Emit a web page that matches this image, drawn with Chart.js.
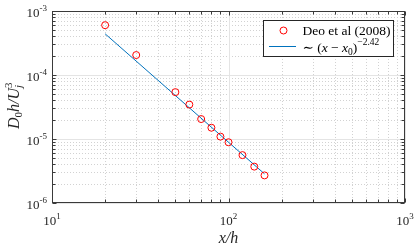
<!DOCTYPE html>
<html>
<head>
<meta charset="utf-8">
<script src="https://cdn.jsdelivr.net/npm/chart.js@4.4.1/dist/chart.umd.min.js"></script>
<style>
  html, body { margin: 0; padding: 0; background: #fff; }
  canvas { display: block; }
</style>
</head>
<body>
<canvas id="grafico" width="415" height="248"></canvas>
<script>
// datos (Deo et al 2008)
const xDeo = [20, 30, 50, 60, 70, 80, 90, 100, 120, 140, 160];
const yDeo = [6.0e-4, 2.05e-4, 5.4e-5, 3.45e-5, 2.05e-5, 1.5e-5, 1.09e-5, 8.9e-6, 5.6e-6, 3.7e-6, 2.7e-6];

// recta de ajuste ~ (x - x0)^-2.42, extremos
const xAjuste = [20, 160];
const yAjuste = [4.4e-4, 2.85e-6];

// ticks
const xTicks = [10, 100, 1000];
const xTickExp = ['1', '2', '3'];
const yTicks = [1e-6, 1e-5, 1e-4, 1e-3];
const yTickExp = ['-6', '-5', '-4', '-3'];

const serif = '"Liberation Serif", "DejaVu Serif", serif';

function menores(desde, hasta) {
    const v = [];
    const e0 = Math.round(Math.log10(desde));
    const e1 = Math.round(Math.log10(hasta));
    for (let e = e0; e < e1; e++) {
        for (let k = 2; k <= 9; k++) v.push(k * Math.pow(10, e));
    }
    return v;
}

// partes: [texto, tamaño, italica, dy, sinAvance]
function fuente(p) {
    return (p[2] ? 'italic ' : '') + p[1] + 'px ' + serif;
}
function anchoPartes(ctx, partes) {
    let w = 0;
    partes.forEach(p => {
        ctx.font = fuente(p);
        if (!p[4]) w += ctx.measureText(p[0]).width;
    });
    return w;
}
function dibujarPartes(ctx, partes, x, y) {
    let cx = x;
    partes.forEach(p => {
        ctx.font = fuente(p);
        ctx.fillText(p[0], cx, y + (p[3] || 0));
        if (!p[4]) cx += ctx.measureText(p[0]).width;
    });
    return cx;
}

const marco = {
    id: 'marco',
    beforeDatasetsDraw(chart) {
        const { ctx, chartArea: a, scales: { x, y } } = chart;
        ctx.save();
        ctx.lineWidth = 1;

        const vertical = (v, sx) => {
            const px = Math.round(sx.getPixelForValue(v)) + 0.5;
            ctx.beginPath(); ctx.moveTo(px, a.top); ctx.lineTo(px, a.bottom); ctx.stroke();
        };
        const horizontal = (v, sy) => {
            const py = Math.round(sy.getPixelForValue(v)) + 0.5;
            ctx.beginPath(); ctx.moveTo(a.left, py); ctx.lineTo(a.right, py); ctx.stroke();
        };

        // grilla menor punteada
        ctx.strokeStyle = '#d2d2d2';
        ctx.setLineDash([1, 2]);
        menores(10, 1000).forEach(v => vertical(v, x));
        menores(1e-6, 1e-3).forEach(v => horizontal(v, y));

        // grilla mayor
        ctx.setLineDash([]);
        ctx.strokeStyle = '#e4e4e4';
        xTicks.forEach(v => vertical(v, x));
        yTicks.forEach(v => horizontal(v, y));
        ctx.restore();
    },
    afterDatasetsDraw(chart) {
        const { ctx, chartArea: a, scales: { x, y } } = chart;
        ctx.save();

        const L = Math.round(a.left) + 0.5, R = Math.round(a.right) - 0.5;
        const T = Math.round(a.top) + 0.5, B = Math.round(a.bottom) - 0.5;

        // caja
        ctx.strokeStyle = '#3a3a3a';
        ctx.lineWidth = 1;
        ctx.strokeRect(L, T, R - L, B - T);

        // marcas hacia adentro
        const marcaX = (v, largo) => {
            const px = Math.round(x.getPixelForValue(v)) + 0.5;
            ctx.beginPath();
            ctx.moveTo(px, B); ctx.lineTo(px, B - largo);
            ctx.moveTo(px, T); ctx.lineTo(px, T + largo);
            ctx.stroke();
        };
        const marcaY = (v, largo) => {
            const py = Math.round(y.getPixelForValue(v)) + 0.5;
            ctx.beginPath();
            ctx.moveTo(L, py); ctx.lineTo(L + largo, py);
            ctx.moveTo(R, py); ctx.lineTo(R - largo, py);
            ctx.stroke();
        };
        menores(10, 1000).forEach(v => marcaX(v, 3));
        menores(1e-6, 1e-3).forEach(v => marcaY(v, 3));
        xTicks.forEach(v => marcaX(v, 4));
        yTicks.forEach(v => marcaY(v, 4));

        // etiquetas de ticks
        ctx.fillStyle = '#262626';
        ctx.textBaseline = 'alphabetic';
        ctx.textAlign = 'left';
        xTicks.forEach((v, i) => {
            const partes = [['10', 13, false], [xTickExp[i], 9, false, -6]];
            const w = anchoPartes(ctx, partes);
            dibujarPartes(ctx, partes, x.getPixelForValue(v) - w / 2, a.bottom + 22);
        });
        yTicks.forEach((v, i) => {
            const partes = [['10', 13, false], [yTickExp[i], 9, false, -6]];
            const w = anchoPartes(ctx, partes);
            dibujarPartes(ctx, partes, a.left - 5 - w, y.getPixelForValue(v) + 6);
        });

        // titulo eje x
        const tx = [['x/h', 16, true]];
        dibujarPartes(ctx, tx, (a.left + a.right) / 2 - anchoPartes(ctx, tx) / 2, 243);

        // titulo eje y (rotado)
        const ty = [['D', 16, true], ['0', 11, false, 3], ['h/U', 16, true],
                    ['3', 11, false, -7, true], ['j', 11, true, 3]];
        ctx.save();
        ctx.translate(19, (a.top + a.bottom) / 2 - 3);
        ctx.rotate(-Math.PI / 2);
        dibujarPartes(ctx, ty, -anchoPartes(ctx, ty) / 2 - 3, 0);
        ctx.restore();

        // leyenda
        const lx = 263.5, ly = 20.5, lw = 130, lh = 36;
        ctx.fillStyle = '#fff';
        ctx.fillRect(lx, ly, lw, lh);
        ctx.strokeStyle = '#262626';
        ctx.strokeRect(lx, ly, lw, lh);

        const d0 = chart.data.datasets[0], d1 = chart.data.datasets[1];
        ctx.strokeStyle = d0.borderColor;
        ctx.lineWidth = 1;
        ctx.beginPath();
        ctx.arc(283.5, 30.5, 3.5, 0, Math.PI * 2);
        ctx.stroke();

        ctx.strokeStyle = d1.borderColor;
        ctx.beginPath();
        ctx.moveTo(269, 46.5); ctx.lineTo(296, 46.5);
        ctx.stroke();

        ctx.fillStyle = '#000';
        dibujarPartes(ctx, [[d0.label, 13.5, false]], 302.5, 35);
        dibujarPartes(ctx, [['\u223C (', 13.5, false], ['x', 13.5, true], [' \u2212 ', 13.5, false],
                            ['x', 13.5, true], ['0', 9.5, false, 3], [')', 13.5, false],
                            ['\u22122.42', 9.5, false, -7]], 302.5, 51.5);

        ctx.restore();
    }
};

const $ctx = document.getElementById('grafico').getContext('2d');

const chart = new Chart($ctx, {
    type: 'scatter',
    data: {
        datasets: [
            {
                label: 'Deo et al (2008)',
                data: xDeo.map((v, i) => ({ x: v, y: yDeo[i] })),
                showLine: false,
                pointStyle: 'circle',
                pointRadius: 3.5,
                borderWidth: 1,
                borderColor: '#ff0000',
                backgroundColor: 'rgba(0,0,0,0)',
            },
            {
                label: '~ (x - x0)^-2.42',
                data: xAjuste.map((v, i) => ({ x: v, y: yAjuste[i] })),
                showLine: true,
                pointRadius: 0,
                borderWidth: 1,
                borderColor: '#0072BD',
                backgroundColor: '#0072BD',
            }
        ]
    },
    options: {
        responsive: false,
        animation: false,
        devicePixelRatio: 1,
        layout: {
            padding: { left: 52, right: 10, top: 11, bottom: 45 }
        },
        scales: {
            x: { type: 'logarithmic', min: 10, max: 1000, display: false },
            y: { type: 'logarithmic', min: 1e-6, max: 1e-3, display: false }
        },
        plugins: {
            legend: { display: false },
            tooltip: { enabled: false }
        }
    },
    plugins: [marco]
});
</script>
</body>
</html>
